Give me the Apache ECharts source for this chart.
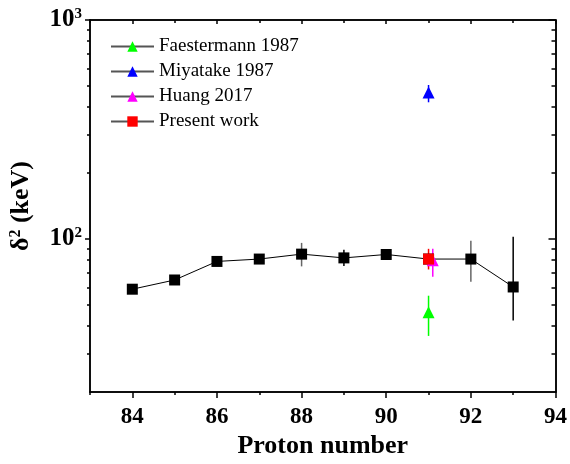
<!DOCTYPE html>
<html>
<head>
<meta charset="utf-8">
<script src="https://cdn.jsdelivr.net/npm/echarts@6/dist/echarts.min.js"></script>
<style>
  html, body { margin: 0; padding: 0; background: #fff; }
  #main { width: 570px; height: 464px; }
</style>
</head>
<body>
<div id="main"></div>
<script>
// present work (black squares)
var protonNumbers = [84, 85, 86, 87, 88, 89, 90, 91, 92, 93];
var delta2 = [59, 65, 79, 81, 85.3, 82, 85, 81, 81, 60.4];
var errLow = [null, null, null, null, 75, 75.3, null, null, 63.8, 42.5];
var errHigh = [null, null, null, null, 96, 89.3, null, null, 98.3, 102.4];

// other measurements at Z = 91
var faestermann = [91, 46.3], faestermannErr = [36.1, 55.1];
var miyatake = [91, 467], miyatakeErr = [421, 505];
var huang = [91.1, 80], huangErr = [67.2, 90.2];
var presentRed = [91, 81], presentRedErr = [72.6, 90.2];

// tick values
var xMajor = [84, 86, 88, 90, 92, 94];
var xMinor = [83, 85, 87, 89, 91, 93];
var yMajor = [100, 1000];
var yMinor = [30, 40, 50, 60, 70, 80, 90, 200, 300, 400, 500, 600, 700, 800, 900];

var blackErrColor = ['#000', '#000', '#000', '#000', '#666', '#000', '#000', '#000', '#666', '#000'];

var serif = 'Liberation Serif';

var errData = [];
protonNumbers.forEach(function (z, i) {
    if (errLow[i] != null) {
        errData.push({ value: [z, errLow[i], errHigh[i]], itemStyle: { color: blackErrColor[i] } });
    }
});
errData.push({ value: [faestermann[0], faestermannErr[0], faestermannErr[1]], itemStyle: { color: '#00ff00' } });
errData.push({ value: [miyatake[0], miyatakeErr[0], miyatakeErr[1]], itemStyle: { color: '#0000ff' } });
errData.push({ value: [huang[0], huangErr[0], huangErr[1]], itemStyle: { color: '#ff00ff' } });
errData.push({ value: [presentRed[0], presentRedErr[0], presentRedErr[1]], itemStyle: { color: '#ff0000' } });

var lineBlack = { color: '#000', width: 1.5 };

function xAx(pos, values, len, inside, extra) {
    var a = {
        type: 'value', min: 83, max: 94, position: pos, gridIndex: 0,
        axisLine: { show: true, onZero: false, lineStyle: lineBlack },
        axisTick: { show: true, inside: inside, length: len, customValues: values, lineStyle: lineBlack },
        axisLabel: { show: false },
        splitLine: { show: false }
    };
    return Object.assign(a, extra || {});
}
function yAx(pos, values, len, inside, extra) {
    var a = {
        type: 'log', logBase: 10, min: 20, max: 1000, position: pos, gridIndex: 0,
        axisLine: { show: true, onZero: false, lineStyle: lineBlack },
        axisTick: { show: true, inside: inside, length: len, customValues: values, lineStyle: lineBlack },
        axisLabel: { show: false },
        splitLine: { show: false }
    };
    return Object.assign(a, extra || {});
}

var chart = echarts.init(document.getElementById('main'));

var option = {
    animation: false,
    backgroundColor: '#fff',
    grid: { left: 89, right: 13, top: 20, bottom: 67 },
    legend: {
        orient: 'vertical',
        left: 105,
        top: 32,
        itemWidth: 43,
        itemHeight: 13,
        itemGap: 6,
        textStyle: { fontFamily: serif, fontSize: 19, color: '#000' },
        data: ['Faestermann 1987', 'Miyatake 1987', 'Huang 2017', 'Present work']
    },
    xAxis: [
        xAx('bottom', xMajor, 6, false, {
            name: 'Proton number',
            nameLocation: 'middle',
            nameGap: 40,
            nameTextStyle: { fontFamily: serif, fontSize: 26, fontWeight: 'bold', color: '#000' },
            axisLabel: {
                show: true, customValues: xMajor, margin: 13,
                fontFamily: serif, fontSize: 23, fontWeight: 'bold', color: '#000'
            }
        }),
        xAx('bottom', xMinor, 3, false),
        xAx('top', xMajor, 4, true),
        xAx('top', xMinor, 3, true)
    ],
    yAxis: [
        yAx('left', yMajor, 5, false, {
            name: '{n|δ}{s|2}{n| (keV)}',
            nameLocation: 'middle',
            nameGap: 55,
            nameTextStyle: {
                rich: {
                    n: { fontFamily: serif, fontSize: 26, fontWeight: 'bold', color: '#000' },
                    s: { fontFamily: serif, fontSize: 16, fontWeight: 'bold', color: '#000', verticalAlign: 'bottom', padding: [0, 0, 11, 0] }
                }
            }
        }),
        yAx('left', yMinor, 3, false),
        yAx('right', yMajor, 7, true),
        yAx('right', yMinor, 4, true)
    ],
    series: [
        {
            name: 'errors',
            type: 'custom',
            xAxisIndex: 0,
            yAxisIndex: 0,
            z: 1,
            renderItem: function (params, api) {
                var p1 = api.coord([api.value(0), api.value(1)]);
                var p2 = api.coord([api.value(0), api.value(2)]);
                return {
                    type: 'line',
                    shape: { x1: p1[0], y1: p1[1], x2: p2[0], y2: p2[1] },
                    style: { stroke: api.visual('color'), lineWidth: 1.5 }
                };
            },
            data: errData
        },
        {
            name: 'Present work (all)',
            type: 'line',
            z: 2,
            symbol: 'rect',
            symbolSize: 11,
            itemStyle: { color: '#000' },
            lineStyle: { color: '#000', width: 1 },
            data: protonNumbers.map(function (z, i) { return [z, delta2[i]]; })
        },
        {
            name: 'Faestermann 1987',
            type: 'line', z: 3,
            symbol: 'triangle', symbolSize: 12,
            itemStyle: { color: '#00ff00' },
            lineStyle: { color: '#555', width: 1 },
            data: [faestermann]
        },
        {
            name: 'Miyatake 1987',
            type: 'line', z: 3,
            symbol: 'triangle', symbolSize: 12,
            itemStyle: { color: '#0000ff' },
            lineStyle: { color: '#555', width: 1 },
            data: [miyatake]
        },
        {
            name: 'Huang 2017',
            type: 'line', z: 3,
            symbol: 'triangle', symbolSize: 12,
            itemStyle: { color: '#ff00ff' },
            lineStyle: { color: '#555', width: 1 },
            data: [huang]
        },
        {
            name: 'Present work',
            type: 'line', z: 4,
            symbol: 'rect', symbolSize: 11,
            itemStyle: { color: '#ff0000' },
            lineStyle: { color: '#555', width: 1 },
            data: [presentRed]
        }
    ]
};

// y tick labels 10^2, 10^3 with superscripts
option.yAxis[0].axisLabel = {
    show: true, customValues: yMajor, margin: 8,
    formatter: function (v) { return '{b|10}{s|' + Math.round(Math.log10(v)) + '}'; },
    rich: {
        b: { fontFamily: serif, fontSize: 25, fontWeight: 'bold', color: '#000' },
        s: { fontFamily: serif, fontSize: 15, fontWeight: 'bold', color: '#000', verticalAlign: 'bottom', padding: [0, 0, 11, 0] }
    }
};

chart.setOption(option);
</script>
</body>
</html>
